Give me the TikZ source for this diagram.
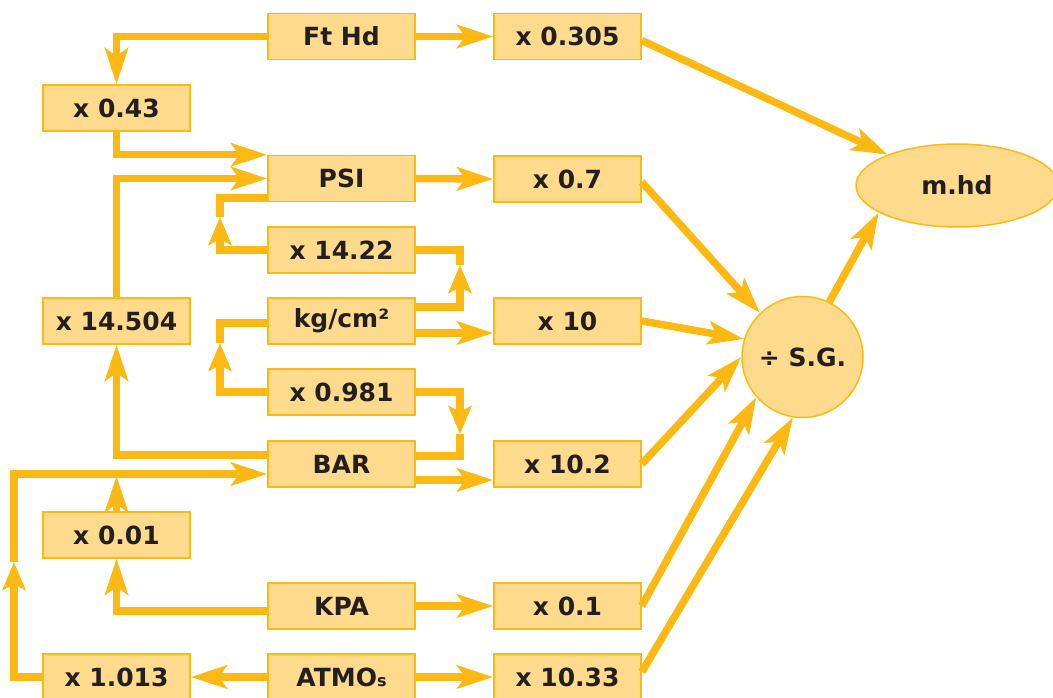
\documentclass[tikz,border=0pt]{standalone}
\usepackage{fontspec}
\setmainfont{DejaVu Sans}
\usetikzlibrary{arrows.meta,shapes.geometric}
\definecolor{amber}{HTML}{FDB913}
\definecolor{pale}{HTML}{FEDA8D}
\definecolor{ink}{HTML}{231F20}
\begin{document}
\begin{tikzpicture}[x=1pt,y=-1pt,
  cbox/.style={draw=amber,fill=pale,line width=1.5pt,minimum width=147pt,minimum height=46pt,inner sep=0pt,text=ink,font=\fontsize{25}{28}\selectfont\bfseries},
  ln/.style={draw=amber,line width=7.5pt,line join=miter},
  arr/.style={ln,-{Stealth[length=36pt,width=23pt,inset=8pt]}},
  midarr/.style={ln,-{Stealth[length=28pt,width=23pt,inset=6pt]}},
]
\useasboundingbox (0,0) rectangle (1053,698);
% nodes
\node[cbox] (fthd)   at (341.5,36.5) {Ft Hd};
\node[cbox] (x0305)  at (567.5,36.5) {x 0.305};
\node[cbox] (x043)   at (116.5,108) {x 0.43};
\node[cbox] (psi)    at (341.5,178.5) {PSI};
\node[cbox] (x07)    at (567.5,179) {x 0.7};
\node[cbox] (x1422)  at (341.5,250) {x 14.22};
\node[cbox] (kg)     at (341.5,321) {kg/cm²};
\node[cbox] (x10)    at (567.5,321) {x 10};
\node[cbox] (x14504) at (116.5,321) {x 14.504};
\node[cbox] (x0981)  at (341.5,392) {x 0.981};
\node[cbox] (bar)    at (341.5,464) {BAR};
\node[cbox] (x102)   at (567.5,464) {x 10.2};
\node[cbox] (x001)   at (116.5,535) {x 0.01};
\node[cbox] (kpa)    at (341.5,606) {KPA};
\node[cbox] (x01)    at (567.5,606) {x 0.1};
\node[cbox] (x1013)  at (116.5,677) {x 1.013};
\node[cbox] (atmos)  at (341.5,677) {ATMO{\fontsize{16}{18}\selectfont s}};
\node[cbox] (x1033)  at (567.5,677) {x 10.33};
\node[cbox,circle,minimum size=121pt] (sg) at (802.5,357) {÷ S.G.};
\node[cbox,ellipse,minimum width=202pt,minimum height=83pt] (mhd) at (957,185.5) {m.hd};
% bend coordinates
\coordinate (a6)  at (220,217);
\coordinate (a7)  at (460,265);
\coordinate (a9)  at (220,343);
\coordinate (a10) at (460,434);
\coordinate (a13) at (14,562);
\coordinate (j14) at (116.5,476);
% connectors
\draw[arr] (fthd.east) -- (x0305.west);
\draw[arr] (fthd.west) -| (x043.north);
\draw[arr] (x043.south) |- (psi.north west);
\draw[arr] (x14504.north) |- (psi.west);
\draw[arr] (psi.east) -- (x07.west);
\draw[midarr] (x1422.west) -| (a6);
\draw[ln]  (a6) |- ([yshift=4pt]psi.south west);
\draw[midarr] ([yshift=14pt]kg.east) -| (a7);
\draw[ln]  (a7) |- (x1422.east);
\draw[arr] ([yshift=-12pt]kg.east) -- ([yshift=-12pt]x10.west);
\draw[midarr] (x0981.west) -| (a9);
\draw[ln]  (a9) |- ([yshift=-2pt]kg.west);
\draw[midarr] (x0981.east) -| (a10);
\draw[ln]  (a10) |- ([yshift=8pt]bar.east);
\draw[arr] ([yshift=-16pt]bar.east) -- ([yshift=-16pt]x102.west);
\draw[arr] ([yshift=9pt]bar.west) -| (x14504.south);
\draw[midarr] (x1013.west) -| (a13);
\draw[arr] (a13) |- ([yshift=-10pt]bar.west);
\draw[arr] (x001.north) -- (j14);
\draw[arr] ([yshift=-5pt]kpa.west) -| (x001.south);
\draw[arr] (kpa.east) -- (x01.west);
\draw[arr] (atmos.west) -- (x1013.east);
\draw[arr] (atmos.east) -- (x1033.west);
\draw[arr] ([yshift=-4pt]x0305.east) -- (mhd.156);
\draw[arr] ([yshift=-3pt]x07.east) -- (sg.134);
\draw[arr] (x10.east) -- (sg.163);
\draw[arr] (x102.east) -- (sg.180);
\draw[arr] (x01.east) -- (sg.221);
\draw[arr] ([yshift=5pt]x1033.east) -- (sg.261);
\draw[arr] (sg.64) -- (mhd.199);
\end{tikzpicture}
\end{document}
